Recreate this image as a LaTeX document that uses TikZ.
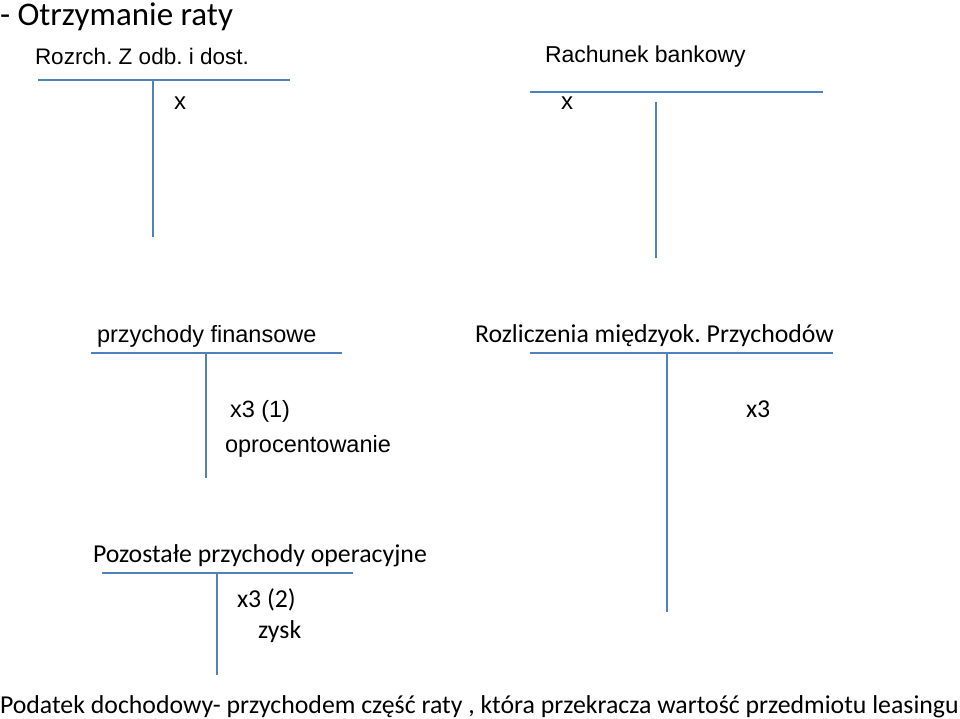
\documentclass[tikz,border=0pt]{standalone}
\usepackage{fontspec}
\setmainfont{Carlito}
\newfontfamily\arialfont{Liberation Sans}
\usetikzlibrary{positioning}
\definecolor{tline}{RGB}{79,129,189}
\frenchspacing

\begin{document}
\begin{tikzpicture}[x=1pt,y=-1pt,
  konto/.style={draw=tline,line width=1.3pt},
  lab/.style={anchor=base west,inner sep=0pt,outer sep=0pt},
  cal/.style={lab,font=\fontsize{25.8}{30}\selectfont},
  ari/.style={lab,font=\arialfont\fontsize{23.5}{28}\selectfont}]
  \useasboundingbox (0,0) rectangle (960,719);

  \node[lab,font=\fontsize{33}{38}\selectfont] (tytul) at (0,26) {- Otrzymanie raty};

  % Rozrch. Z odb. i dost.
  \node[ari,font=\arialfont\fontsize{22.5}{26}\selectfont] (rozrach) at (35,65) {Rozrch. Z odb. i dost.};
  \draw[konto] (38,80) -- (290,80);
  \draw[konto] (153,80) -- (153,237);
  \node[ari,font=\arialfont\fontsize{24}{28}\selectfont] (rozrachX) at (174,110) {x};

  % Rachunek bankowy
  \node[ari,font=\arialfont\fontsize{23}{27}\selectfont] (bank) at (545,63) {Rachunek bankowy};
  \draw[konto] (530,92) -- (823,92);
  \draw[konto] (656,102) -- (656,258);
  \node[ari,font=\arialfont\fontsize{24}{28}\selectfont] (bankX) at (561,110) {x};

  % przychody finansowe
  \node[ari] (finans) at (97,342) {przychody finansowe};
  \draw[konto] (91,353) -- (342,353);
  \draw[konto] (206,353) -- (206,478);
  \node[ari] (finansA) at (230,417) {x3 (1)};
  \node[ari] (finansB) at (225,452) {oprocentowanie};

  % Rozliczenia miedzyokresowe
  \node[cal] (rmp) at (475,342) {Rozliczenia międzyok. Przychodów};
  \draw[konto] (530,353) -- (833,353);
  \draw[konto] (667,353) -- (667,612);
  \node[cal] (rmpA) at (746,417) {x3};

  % Pozostale przychody operacyjne
  \node[cal] (ppo) at (93,562) {Pozostałe przychody operacyjne};
  \draw[konto] (102,573) -- (353,573);
  \draw[konto] (217,573) -- (217,675);
  \node[cal] (ppoA) at (237,607) {x3 (2)};
  \node[cal] (ppoB) at (258,638) {zysk};

  \node[lab,font=\fontsize{25.8}{30}\selectfont] (podatek) at (0,713)
    {Podatek dochodowy- przychodem część raty , która przekracza wartość przedmiotu leasingu};
\end{tikzpicture}
\end{document}
